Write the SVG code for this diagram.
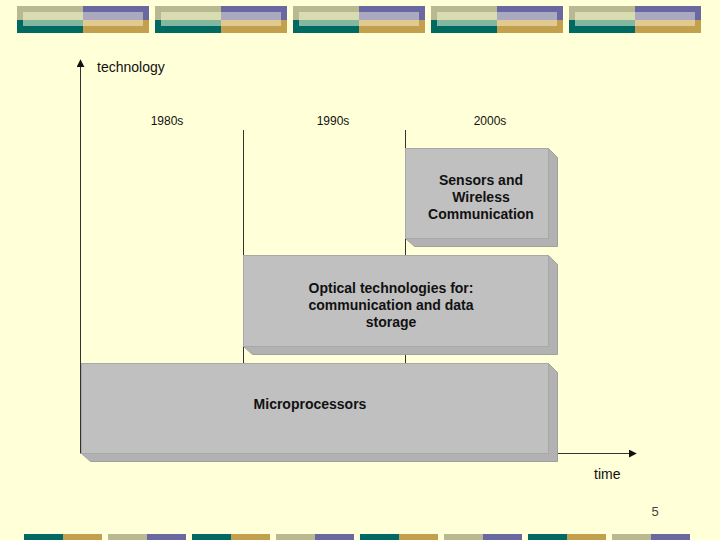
<svg xmlns="http://www.w3.org/2000/svg" width="720" height="540" viewBox="0 0 720 540">
<defs>
<style>
.ax{stroke:#333;stroke-width:1;fill:none}
.front{fill:#c0c0c0;stroke:#a8a8a8;stroke-width:1}
.side{fill:#b2b2b2;stroke:#a0a0a0;stroke-width:1}
.lbl{font-family:"Liberation Sans",Arial,sans-serif;font-size:14px;font-weight:bold;fill:#111;text-anchor:middle}
.yr{font-family:"Liberation Sans",Arial,sans-serif;font-size:12px;fill:#111;text-anchor:middle}
.axl{font-family:"Liberation Sans",Arial,sans-serif;font-size:14px;fill:#111}
</style>
<g id="banner">
<rect x="0" y="6" width="66" height="14" fill="#b9b991"/>
<rect x="66" y="6" width="66" height="14" fill="#6a68a0"/>
<rect x="0" y="20" width="66" height="13" fill="#006a62"/>
<rect x="66" y="20" width="66" height="13" fill="#c3a04e"/>
<rect x="6" y="12" width="60" height="8" fill="#d9dbb0"/>
<rect x="66" y="12" width="60" height="8" fill="#aba9c0"/>
<rect x="6" y="20" width="60" height="6" fill="#82b8a0"/>
<rect x="66" y="20" width="60" height="6" fill="#e1ca92"/>
</g>
<g id="bA"><rect x="0" y="534" width="39" height="6" fill="#006a62"/><rect x="39" y="534" width="39" height="6" fill="#c3a04e"/></g>
<g id="bB"><rect x="0" y="534" width="39" height="6" fill="#b9b991"/><rect x="39" y="534" width="39" height="6" fill="#6a68a0"/></g>
<marker id="arr" viewBox="0 0 10 10" refX="9" refY="5" markerWidth="8" markerHeight="8" orient="auto" markerUnits="userSpaceOnUse"><path d="M0,0 L10,5 L0,10 z" fill="#111"/></marker>
</defs>
<rect width="720" height="540" fill="#ffffd8"/>
<g id="top-decor">
<use href="#banner" x="17"/>
<use href="#banner" x="155"/>
<use href="#banner" x="293"/>
<use href="#banner" x="431"/>
<use href="#banner" x="569"/>
</g>
<g id="bottom-decor">
<use href="#bA" x="24"/><use href="#bB" x="108"/><use href="#bA" x="192"/><use href="#bB" x="276"/>
<use href="#bA" x="360"/><use href="#bB" x="444"/><use href="#bA" x="528"/><use href="#bB" x="612"/>
</g>
<g id="connectors">
<line class="ax" x1="80.5" y1="453" x2="80.5" y2="60" marker-end="url(#arr)"/>
<line class="ax" x1="80.5" y1="453.5" x2="636" y2="453.5" marker-end="url(#arr)"/>
<line class="ax" x1="243.5" y1="130" x2="243.5" y2="364"/>
<line class="ax" x1="405.5" y1="130" x2="405.5" y2="364"/>
</g>
<text class="axl" x="97" y="72">technology</text>
<text class="axl" x="594" y="479">time</text>
<text class="yr" x="167" y="125">1980s</text>
<text class="yr" x="333" y="125">1990s</text>
<text class="yr" x="490" y="125">2000s</text>
<g id="sensors">
<polygon class="side" points="548.5,148.5 557.5,157.5 557.5,246.5 414.5,246.5 405.5,238.5 548.5,238.5"/>
<rect class="front" x="405.5" y="148.5" width="143" height="90"/>
<text class="lbl" x="481" y="185">Sensors and</text>
<text class="lbl" x="481" y="202">Wireless</text>
<text class="lbl" x="481" y="219">Communication</text>
</g>
<g id="optical">
<polygon class="side" points="548.5,255.5 557.5,264.5 557.5,354.5 252.5,354.5 243.5,346.5 548.5,346.5"/>
<rect class="front" x="243.5" y="255.5" width="305" height="91"/>
<text class="lbl" x="391" y="293">Optical technologies for:</text>
<text class="lbl" x="391" y="310">communication and data</text>
<text class="lbl" x="391" y="327">storage</text>
</g>
<g id="micro">
<polygon class="side" points="548.5,363.5 557.5,372.5 557.5,461.5 90.5,461.5 81.5,453.5 548.5,453.5"/>
<rect class="front" x="81.5" y="363.5" width="467" height="90"/>
<text class="lbl" x="310" y="409">Microprocessors</text>
</g>
<text x="655" y="516" font-family="Liberation Sans,Arial,sans-serif" font-size="13" fill="#444" text-anchor="middle">5</text>
</svg>
